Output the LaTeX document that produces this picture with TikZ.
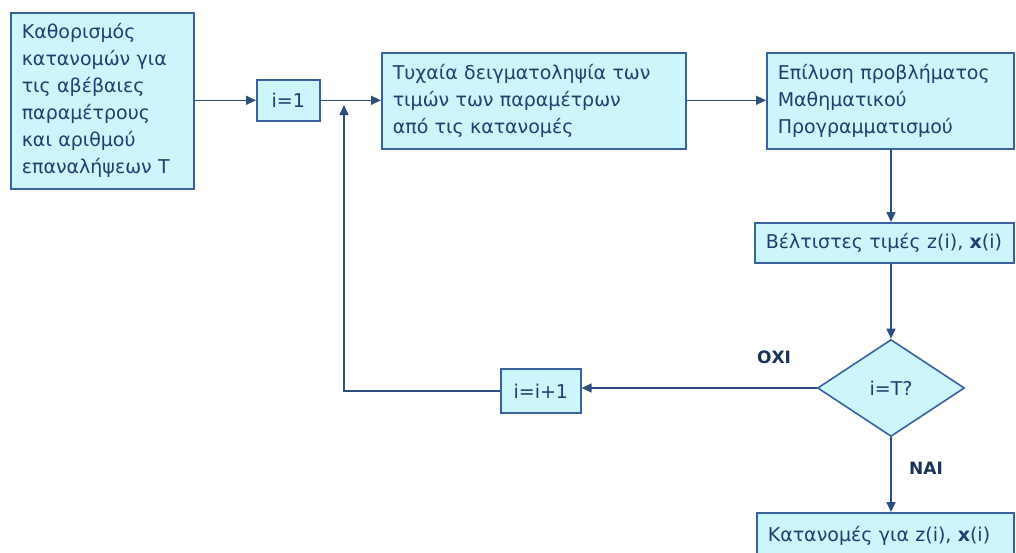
\documentclass[tikz,border=0pt]{standalone}
\usepackage{fontspec}
\setmainfont{DejaVu Sans}
\usetikzlibrary{shapes.geometric,arrows.meta}
\definecolor{boxfill}{RGB}{204,246,251}
\definecolor{boxline}{RGB}{58,98,158}
\definecolor{boxtext}{RGB}{32,62,112}
\begin{document}
\begin{tikzpicture}[x=1pt,y=-1pt,
  box/.style = {draw = boxline, fill = boxfill, line width = 1.6pt, anchor = north west, align = left,
    text = boxtext, inner xsep = 11pt, inner ysep = 0pt, font = \fontsize{19}{27}\selectfont},
  flow/.style = {draw = boxline!80!black, line width = 1.6pt, -{Triangle[length = 10pt, width = 9pt]}},
  tag/.style = {text = boxtext!80!black, font = \fontsize{17}{19}\selectfont\bfseries}]
\useasboundingbox (0,0) rectangle (1016,552);
\node[box, minimum width = 183pt, minimum height = 176pt, text width = 161pt] (init) at (10,12)
  {Καθορισμός\\κατανομών για\\τις αβέβαιες\\παραμέτρους\\και αριθμού\\επαναλήψεων Τ};
\node[box, minimum width = 63pt, minimum height = 41pt, align = center] (one) at (256,79) {i=1};
\node[box, minimum width = 304pt, minimum height = 96pt, text width = 282pt] (samp) at (381,52)
  {Τυχαία δειγματοληψία των\\τιμών των παραμέτρων\\από τις κατανομές};
\node[box, minimum width = 247pt, minimum height = 96pt, text width = 225pt] (solve) at (766,52)
  {Επίλυση προβλήματος\\Μαθηματικού\\Προγραμματισμού};
\node[box, minimum width = 259pt, minimum height = 40pt, text width = 237pt] (opt) at (754,222)
  {Βέλτιστες τιμές z(i), \textbf{x}(i)};
\node[box, diamond, anchor = center, minimum width = 147pt, minimum height = 97pt, align = center] (dec) at (891,388) {i=T?};
\node[box, minimum width = 80pt, minimum height = 44pt, align = center] (inc) at (500,368) {i=i+1};
\node[box, minimum width = 257pt, minimum height = 46pt, text width = 235pt] (dist) at (756,512)
  {Κατανομές για z(i), \textbf{x}(i)};
\coordinate (back) at (344,105);
% connectors
\draw[flow] (init.east |- one.west) -- (one.west);
\draw[flow] (one.east) -- (one.east -| samp.west);
\draw[flow] (samp.east |- one.east) -- (one.east -| solve.west);
\draw[flow] (solve.south -| dec.north) -- (opt.north -| dec.north);
\draw[flow] (opt.south -| dec.north) -- (dec.north);
\draw[flow] (dec.west) -- (dec.west -| inc.east);
\draw[flow] (inc.west) -| (back);
\draw[flow] (dec.south) -- (dist.north -| dec.south);
\node[tag] (no) at (774,357) {ΟΧΙ};
\node[tag] (yes) at (926,468) {ΝΑΙ};
\end{tikzpicture}
\end{document}
